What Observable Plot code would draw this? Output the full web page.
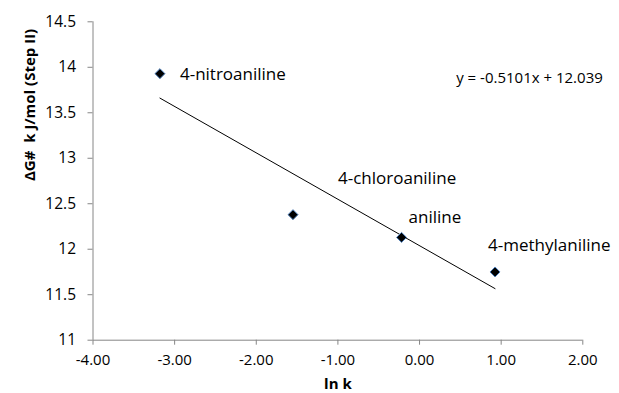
<!DOCTYPE html>
<html><head><meta charset="utf-8">
<script src="https://cdn.jsdelivr.net/npm/d3@7"></script>
<script src="https://cdn.jsdelivr.net/npm/@observablehq/plot@0.6"></script>
<style>
html,body{margin:0;padding:0;background:#fff;}
svg{font-family:"Open Sans",sans-serif;}
</style></head>
<body><div id="chart"></div>
<script>
const compounds = ["4-nitroaniline", "4-chloroaniline", "aniline", "4-methylaniline"];
const lnk = [-3.18, -1.55, -0.22, 0.925];
const deltaG = [13.93, 12.38, 12.13, 11.75];
const slope = -0.5101;
const intercept = 12.039;
const equation = "y = -0.5101x + 12.039";
const xTicks = [-4, -3, -2, -1, 0, 1, 2];
const yTicks = [11, 11.5, 12, 12.5, 13, 13.5, 14, 14.5];

const points = compounds.map((c, i) => ({name: c, x: lnk[i], y: deltaG[i]}));
const xMin = d3.min(lnk), xMax = d3.max(lnk);
const trend = [xMin, xMax].map(x => ({x, y: slope * x + intercept}));
// label offsets in pixels (layout only)
const labelDx = [20, 45, 7, -7];
const labelDy = [1, -36, -20, -26];

const gray = "#868686";
const font = "'Open Sans', sans-serif";
const chart = Plot.plot({
  width: 619, height: 393,
  marginLeft: 92.5, marginRight: 36.7, marginTop: 21.3, marginBottom: 53.3,
  style: {fontFamily: font, background: "#fff"},
  x: {domain: [-4, 2]},
  y: {domain: [11, 14.5]},
  marks: [
    Plot.ruleX([-4], {stroke: gray}),
    Plot.ruleY([11], {stroke: gray}),
    Plot.axisX({ticks: xTicks, tickFormat: d => d.toFixed(2), tickSize: 5, stroke: gray, color: "#000", fontSize: 15, tickPadding: 9, label: null}),
    Plot.axisY({ticks: yTicks, tickFormat: d => String(d), tickSize: 5, stroke: gray, color: "#000", fontSize: 15.5, tickPadding: 12, label: null}),
    Plot.text(["ln k"], {frameAnchor: "bottom", dy: 48.5, fontWeight: "bold", fontSize: 15, fill: "#000"}),
    Plot.text(["ΔG#  k J/mol (Step II)"], {frameAnchor: "left", dx: -63, rotate: -90, fontWeight: "bold", fontSize: 15, fill: "#000"}),
    Plot.line(trend, {x: "x", y: "y", stroke: "#000", strokeWidth: 1}),
    Plot.dot(points, {x: "x", y: "y", symbol: "diamond2", r: 4.5, fill: "#000", stroke: "#4f81bd", strokeWidth: 1}),
    ...points.map((p, i) => Plot.text([p], {x: "x", y: "y", text: "name", textAnchor: "start", dx: labelDx[i], dy: labelDy[i], fontSize: 17, fill: "#000"})),
    Plot.text([equation], {frameAnchor: "top-right", dx: 20, dy: 50.5, textAnchor: "end", fontSize: 15, fill: "#000"})
  ]
});
document.getElementById("chart").appendChild(chart);
</script></body></html>
